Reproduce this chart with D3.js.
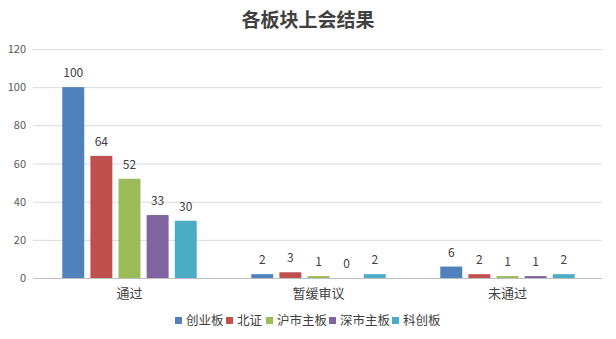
<!DOCTYPE html>
<html>
<head>
<meta charset="utf-8">
<script src="https://cdn.jsdelivr.net/npm/d3@7"></script>
<style>
	body { margin: 0; background: #fff; }
	text { font-family: "Noto Sans CJK SC", "Noto Sans", sans-serif; }
</style>
</head>
<body>
<div class="container"></div>
<script>
let categories = ['通过', '暂缓审议', '未通过']
let seriesNames = ['创业板', '北证', '沪市主板', '深市主板', '科创板']
let colors = ['#4F81BD', '#C0504D', '#9BBB59', '#8064A2', '#4BACC6']

// values per board, one entry per category
let chuangye = [100, 2, 6]
let beizheng = [64, 3, 2]
let hushi = [52, 1, 1]
let shenshi = [33, 0, 1]
let kechuang = [30, 2, 2]

let yTicks = [0, 20, 40, 60, 80, 100, 120]

let seriesValues = [chuangye, beizheng, hushi, shenshi, kechuang]

const width = 616
const height = 339
const plotLeft = 33, plotRight = 602, plotTop = 49, plotBottom = 278

let svg = d3.select('.container')
	.append('svg')
	.attr('width', width)
	.attr('height', height)

svg.append('text')
	.attr('x', 308)
	.attr('y', 27)
	.attr('text-anchor', 'middle')
	.attr('font-size', 19)
	.attr('font-weight', 'bold')
	.attr('fill', '#404040')
	.text('各板块上会结果')

let y = d3.scaleLinear().domain([0, 120]).range([plotBottom, plotTop])

let x0 = d3.scaleBand().domain(categories).range([plotLeft + 2, plotRight])

let x1 = d3.scaleBand()
	.domain(seriesNames)
	.range([0, x0.bandwidth()])
	.paddingInner(0.22)
	.paddingOuter(0.97)

// gridlines
svg.append('g')
	.selectAll('line')
	.data(yTicks.filter(d => d > 0))
	.join('line')
	.attr('x1', plotLeft)
	.attr('x2', plotRight)
	.attr('y1', d => y(d) + 0.5)
	.attr('y2', d => y(d) + 0.5)
	.attr('stroke', '#d9d9d9')

// y tick labels
svg.append('g')
	.selectAll('text')
	.data(yTicks)
	.join('text')
	.attr('x', 26)
	.attr('y', d => y(d) + 4)
	.attr('text-anchor', 'end')
	.attr('font-size', 11)
	.attr('fill', '#595959')
	.text(d => d)

let groups = svg.append('g')
	.selectAll('g')
	.data(categories)
	.join('g')
	.attr('transform', d => 'translate(' + x0(d) + ',0)')

seriesNames.forEach((name, s) => {
	groups.append('rect')
		.attr('x', x1(name))
		.attr('y', (d, i) => y(seriesValues[s][i]))
		.attr('width', x1.bandwidth())
		.attr('height', (d, i) => plotBottom - y(seriesValues[s][i]))
		.attr('fill', colors[s])

	groups.append('text')
		.attr('x', x1(name) + x1.bandwidth() / 2)
		.attr('y', (d, i) => y(seriesValues[s][i]) - 10)
		.attr('text-anchor', 'middle')
		.attr('font-size', 12)
		.attr('fill', '#404040')
		.text((d, i) => seriesValues[s][i])
})

// axis line
svg.append('line')
	.attr('x1', plotLeft)
	.attr('x2', plotRight)
	.attr('y1', plotBottom + 0.5)
	.attr('y2', plotBottom + 0.5)
	.attr('stroke', '#bfbfbf')

svg.append('g')
	.selectAll('text')
	.data(categories)
	.join('text')
	.attr('x', d => x0(d) + x0.bandwidth() / 2)
	.attr('y', 298)
	.attr('text-anchor', 'middle')
	.attr('font-size', 13)
	.attr('fill', '#404040')
	.text(d => d)

// legend
let legendX = [175, 226, 266, 329, 392]
let legend = svg.append('g')
	.selectAll('g')
	.data(seriesNames)
	.join('g')
	.attr('transform', (d, i) => 'translate(' + legendX[i] + ',317)')

legend.append('rect')
	.attr('width', 7)
	.attr('height', 7)
	.attr('fill', (d, i) => colors[i])

legend.append('text')
	.attr('x', 11)
	.attr('y', 8)
	.attr('font-size', 12.5)
	.attr('fill', '#404040')
	.text(d => d)
</script>
</body>
</html>
